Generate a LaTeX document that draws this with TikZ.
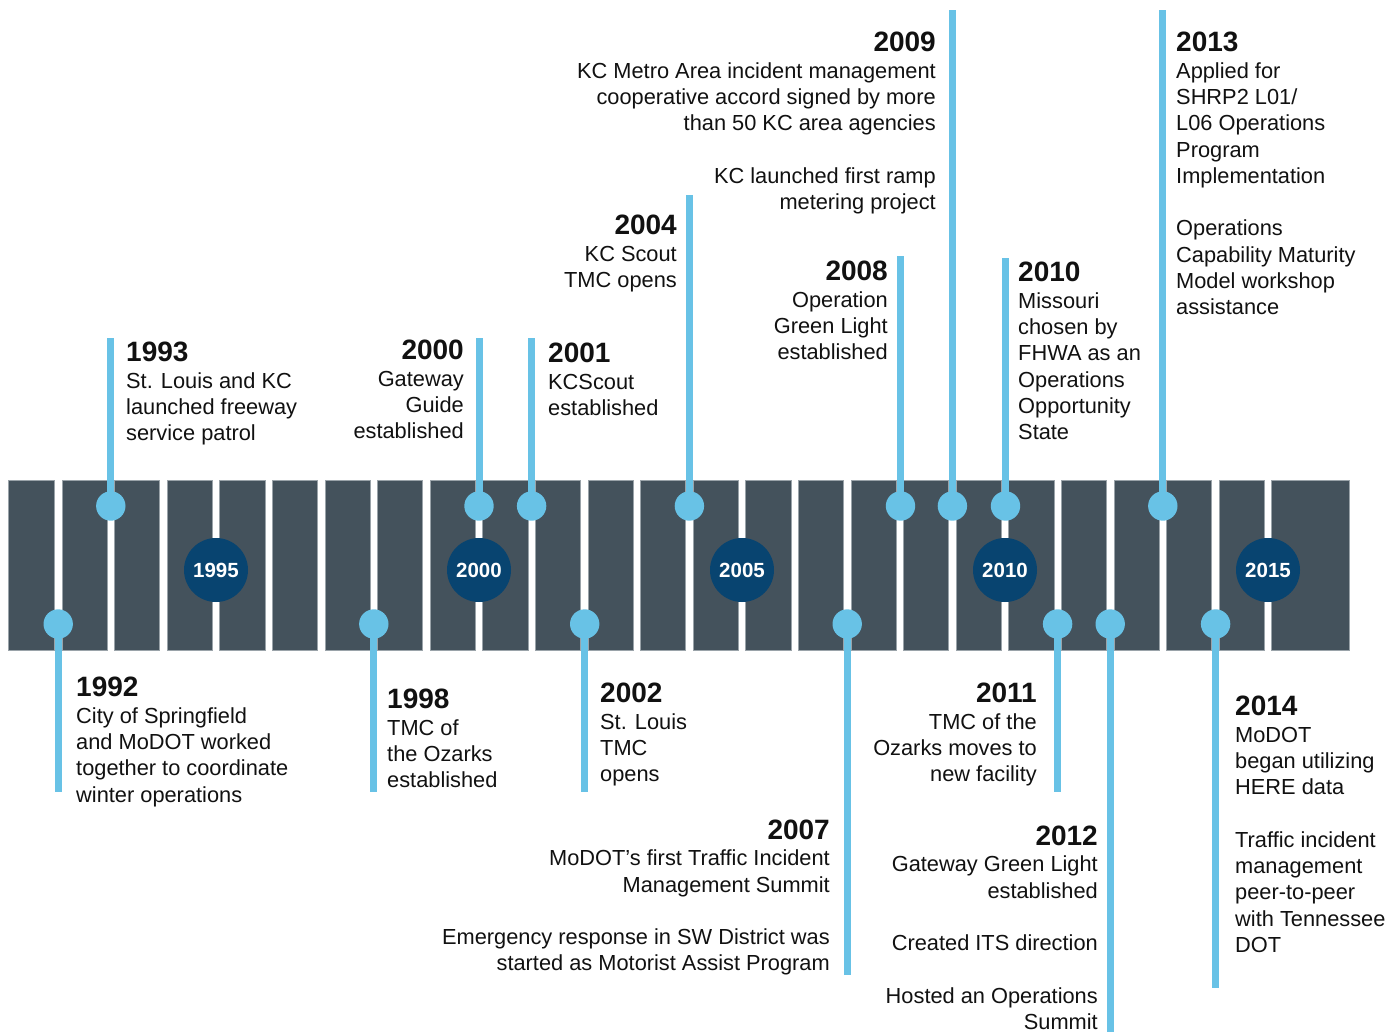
\documentclass[tikz,border=0pt]{standalone}
\usepackage{fontspec}
\setmainfont{Liberation Sans}
\definecolor{blockc}{HTML}{44525C}
\definecolor{blockedge}{HTML}{9AA3A9}
\definecolor{pinc}{HTML}{68C2E6}
\definecolor{yearc}{HTML}{084470}
\definecolor{txt}{HTML}{111111}
\newcommand{\bodyfont}{\fontsize{21.8}{26.25}\selectfont}
\newcommand{\yrfont}{\fontsize{28}{26.25}\selectfont\bfseries}
\newcommand{\ev}[1]{{\yrfont #1}\\[0.4pt]}
\pgfdeclarelayer{bg}
\pgfdeclarelayer{mid}
\pgfsetlayers{bg,mid,main}
\tikzset{
  blockbox/.style={fill=blockc,draw=blockedge,line width=0.6pt},
  pinball/.style={circle,fill=pinc,minimum size=29.4pt,inner sep=0pt},
  yearball/.style={circle,fill=yearc,minimum size=64pt,inner sep=0pt,text=white,font=\fontsize{20.5}{22}\selectfont\bfseries},
  stem/.style={draw=pinc,line width=7pt,line cap=butt},
  evl/.style={anchor=north west,inner sep=0pt,align=left,font=\bodyfont,text=txt},
  evr/.style={anchor=north east,inner sep=0pt,align=right,font=\bodyfont,text=txt},
}
\begin{document}
\begin{tikzpicture}[x=1pt,y=-1pt]
\useasboundingbox (0,0) rectangle (1400,1032);
\begin{pgfonlayer}{bg}
  \fill[white] (0,0) rectangle (1400,1032);
  \draw[blockbox] (8.7,480) rectangle (54.5,650);
  \foreach \yy in {1992,...,2014}{
    \pgfmathsetmacro\xa{216+(\yy-1995)*52.6+3.7}
    \pgfmathsetmacro\xb{216+(\yy-1994)*52.6-3.7}
    \draw[blockbox] (\xa,480) rectangle (\xb,650);
  }
  \draw[blockbox] (1271.7,480) rectangle (1349,650);
\end{pgfonlayer}

% year circles
\node[yearball] (c1995) at (216,570) {1995};
\node[yearball] (c2000) at (479,570) {2000};
\node[yearball] (c2005) at (742,570) {2005};
\node[yearball] (c2010) at (1005,570) {2010};
\node[yearball] (c2015) at (1268,570) {2015};

% upper pins
\node[pinball] (p1993) at (110.8,506) {};
\node[pinball] (p2000) at (479.0,506) {};
\node[pinball] (p2001) at (531.6,506) {};
\node[pinball] (p2004) at (689.4,506) {};
\node[pinball] (p2008) at (900.5,506) {};
\node[pinball] (p2009) at (952.4,506) {};
\node[pinball] (p2010) at (1005.5,506) {};
\node[pinball] (p2013) at (1162.8,506) {};
% lower pins
\node[pinball] (p1992) at (58.2,624) {};
\node[pinball] (p1998) at (373.8,624) {};
\node[pinball] (p2002) at (584.7,624) {};
\node[pinball] (p2007) at (847.2,624) {};
\node[pinball] (p2011) at (1057.6,624) {};
\node[pinball] (p2012) at (1110.2,624) {};
\node[pinball] (p2014) at (1215.6,624) {};

% stem ends
\coordinate (e1993) at (110.8,338);
\coordinate (e2000) at (479.0,338);
\coordinate (e2001) at (531.6,338);
\coordinate (e2004) at (689.4,195);
\coordinate (e2008) at (900.5,256);
\coordinate (e2009) at (952.4,10);
\coordinate (e2010) at (1005.5,258);
\coordinate (e2013) at (1162.8,10);
\coordinate (e1992) at (58.2,792);
\coordinate (e1998) at (373.8,792);
\coordinate (e2002) at (584.7,792);
\coordinate (e2007) at (847.2,975);
\coordinate (e2011) at (1057.6,792);
\coordinate (e2012) at (1110.2,1032);
\coordinate (e2014) at (1215.6,988);

\begin{pgfonlayer}{mid}
  \foreach \yy in {1993,2000,2001,2004,2008,2009,2010,2013,1992,1998,2002,2007,2011,2012,2014}{
    \draw[stem] (p\yy.center) -- (e\yy);
  }
\end{pgfonlayer}

% texts above
\node[evl] (t1993) at (126,342) {\ev{1993}St. Louis and KC\\launched freeway\\service patrol};
\node[evr] (t2000) at (464,340) {\ev{2000}Gateway\\Guide\\established};
\node[evl] (t2001) at (548,343) {\ev{2001}KCScout\\established};
\node[evr] (t2004) at (677,215) {\ev{2004}KC Scout\\TMC opens};
\node[evr] (t2008) at (888,261) {\ev{2008}Operation\\Green Light\\established};
\node[evr] (t2009) at (936,32) {\ev{2009}KC Metro Area incident management\\cooperative accord signed by more\\than 50 KC area agencies\\[26.25pt]KC launched first ramp\\metering project};
\node[evl] (t2010) at (1018,262) {\ev{2010}Missouri\\chosen by\\FHWA as an\\Operations\\Opportunity\\State};
\node[evl] (t2013) at (1176,32) {\ev{2013}Applied for\\SHRP2 L01/\\L06 Operations\\Program\\Implementation\\[26.25pt]Operations\\Capability Maturity\\Model workshop\\assistance};
% texts below
\node[evl] (t1992) at (76,677) {\ev{1992}City of Springfield\\and MoDOT worked\\together to coordinate\\winter operations};
\node[evl] (t1998) at (387,689) {\ev{1998}TMC of\\the Ozarks\\established};
\node[evl] (t2002) at (600,683) {\ev{2002}St. Louis\\TMC\\opens};
\node[evr] (t2007) at (830,819.5) {\ev{2007}MoDOT’s first Traffic Incident\\Management Summit\\[26.25pt]Emergency response in SW District was\\started as Motorist Assist Program};
\node[evr] (t2011) at (1037,683) {\ev{2011}TMC of the\\Ozarks moves to\\new facility};
\node[evr] (t2012) at (1098,825.5) {\ev{2012}Gateway Green Light\\established\\[26.25pt]Created ITS direction\\[26.25pt]Hosted an Operations\\Summit};
\node[evl] (t2014) at (1235,696) {\ev{2014}MoDOT\\began utilizing\\HERE data\\[26.25pt]Traffic incident\\management\\peer-to-peer\\with Tennessee\\DOT};
\end{tikzpicture}
\end{document}
